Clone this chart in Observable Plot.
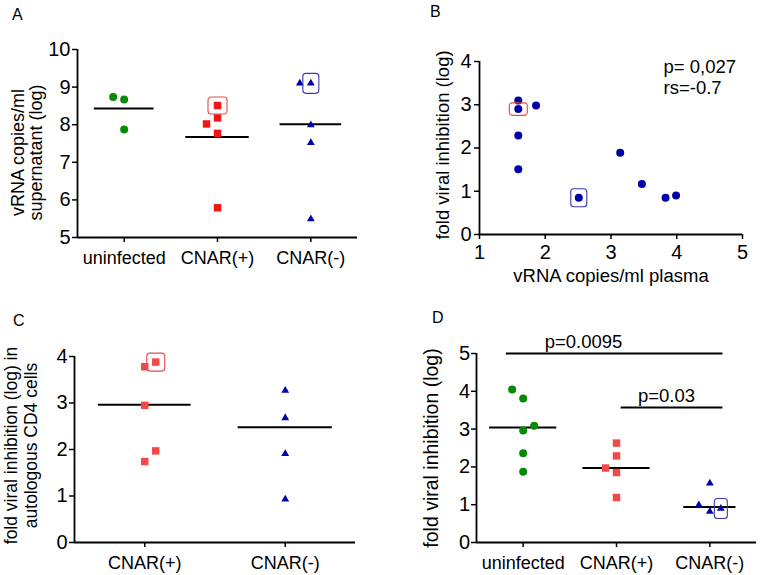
<!DOCTYPE html>
<html><head><meta charset="utf-8">
<script src="https://cdn.jsdelivr.net/npm/d3@7"></script>
<script src="https://cdn.jsdelivr.net/npm/@observablehq/plot@0.6"></script>
<style>
body{margin:0;background:#fff;}
#fig{position:relative;width:760px;height:575px;font-family:"Liberation Sans",Arial,sans-serif;overflow:hidden;}
.panel{position:absolute;}
.letter{position:absolute;font-size:16px;line-height:1;color:#000;font-family:"Liberation Sans",Arial,sans-serif;}
</style></head><body><div id="fig"></div>
<script>
// ---------- DATA ----------
// Panel A
const groupsA = ["uninfected", "CNAR(+)", "CNAR(-)"];
const aUninfected = [8.74, 8.67, 7.87];
const aUninfectedCol = [-1, 0, 0];
const aCnarPos = [8.02, 8.51, 8.18, 7.77, 5.79];
const aCnarPosCol = [-1, 0, 0, 0, 0];
const aCnarPosBoxed = 1;
const aCnarNeg = [9.10, 9.10, 7.99, 7.52, 5.49];
const aCnarNegCol = [-1, 0, 0, 0, 0];
const aCnarNegBoxed = 1;
const aMeans = [8.43, 7.67, 8.01];
const aTicks = [5, 6, 7, 8, 9, 10];

// Panel B
const bPlasma = [1.59, 1.59, 1.86, 1.59, 1.59, 2.51, 3.14, 3.47, 3.83, 3.99];
const bInhibition = [3.10, 2.90, 2.98, 2.29, 1.51, 0.85, 1.89, 1.17, 0.85, 0.90];
const bBoxedRed = 1;
const bBoxedBlue = 5;
const bXTicks = [1, 2, 3, 4, 5];
const bYTicks = [0, 1, 2, 3, 4];
const bStats = ["p= 0,027", "rs=-0.7"];

// Panel C
const groupsC = ["CNAR(+)", "CNAR(-)"];
const cCnarPos = [3.78, 3.88, 2.95, 1.97, 1.74];
const cCnarPosCol = [0, 1, 0, 1, 0];
const cCnarPosBoxed = 1;
const cCnarNeg = [3.27, 2.68, 1.91, 0.93];
const cMeans = [2.96, 2.48];
const cTicks = [0, 1, 2, 3, 4];

// Panel D
const groupsD = ["uninfected", "CNAR(+)", "CNAR(-)"];
const dUninfected = [4.05, 3.81, 3.09, 2.96, 2.36, 1.87];
const dUninfectedCol = [-1, 0, 1, 0, 0, 0];
const dCnarPos = [2.63, 2.29, 1.97, 1.85, 1.19];
const dCnarPosCol = [0, 0, -1, 0, 0];
const dCnarNeg = [1.57, 0.99, 0.82, 0.90];
const dCnarNegCol = [0, -1, 0, 1];
const dCnarNegBoxed = 3;
const dMeans = [3.04, 1.97, 0.94];
const dTicks = [0, 1, 2, 3, 4, 5];
const dSigFrom = ["uninfected", "CNAR(+)"];
const dSigTo = ["CNAR(-)", "CNAR(-)"];
const dSigY = [5.0, 3.57];
const dSigLabel = ["p=0.0095", "p=0.03"];

// ---------- STYLE ----------
const FONT = "Liberation Sans, Arial, Helvetica, sans-serif";
const GREEN = "#088a08", RED_A = "#f01616", RED_L = "#f24848", BLUE = "#0000aa";
const BOX_RED = "#e84a4a", BOX_BLUE = "#3b3bab";
const JIT = 11;
const TICK_FONT = 20;
const intFmt = d => String(d);

function rrect(w, h, r) {
  return {draw(c) {
    const x0 = -w / 2, y0 = -h / 2, x1 = w / 2, y1 = h / 2;
    c.moveTo(x0 + r, y0); c.lineTo(x1 - r, y0); c.arcTo(x1, y0, x1, y0 + r, r);
    c.lineTo(x1, y1 - r); c.arcTo(x1, y1, x1 - r, y1, r);
    c.lineTo(x0 + r, y1); c.arcTo(x0, y1, x0, y1 - r, r);
    c.lineTo(x0, y0 + r); c.arcTo(x0, y0, x0 + r, y0, r); c.closePath();
  }};
}

function pts(group, values, cols, boxed) {
  return values.map((v, i) => ({group, value: v, col: cols ? cols[i] : 0, boxed: i === boxed}));
}

const symStyle = {
  "uninfected": {symbol: "circle", r: 4},
  "CNAR(+)": {symbol: "square", r: 4.2},
  "CNAR(-)": {symbol: "triangle", r: 2.9}
};

function groupDots(groups, data, colorOf) {
  const marks = [];
  for (const g of groups) {
    for (const c of [-1, 0, 1]) {
      const sub = data.filter(d => d.group === g && d.col === c);
      if (!sub.length) continue;
      marks.push(Plot.dot(sub, {
        x: d => groups.indexOf(d.group), y: "value", dx: c * JIT,
        symbol: symStyle[g].symbol, r: symStyle[g].r, fill: colorOf(g), stroke: "none"
      }));
    }
  }
  return marks;
}

function boxMark(groups, data, w, h, color) {
  const sub = data.filter(d => d.boxed);
  return sub.map(d => Plot.dot([d], {
    x: e => groups.indexOf(e.group), y: "value", dx: d.col * JIT,
    symbol: rrect(w, h, 3), r: 5, fill: "none", stroke: color, strokeWidth: 1.1
  }));
}

function meanLines(groups, means, halves) {
  const tbl = groups.map((g, i) => ({i, mean: means[i], h: halves[i]}));
  return Plot.ruleY(tbl, {y: "mean", x1: d => d.i - d.h, x2: d => d.i + d.h, stroke: "black", strokeWidth: 2});
}

function baseStyle() {
  return {fontFamily: FONT, fontSize: "18px", color: "black", background: "white", overflow: "visible"};
}

function catAxes(groups, ticks, yMin, xPad, yPad) {
  return [
    Plot.axisY({ticks, tickFormat: intFmt, tickSize: 5, tickPadding: yPad, fontSize: TICK_FONT, label: null, strokeWidth: 1.5}),
    Plot.axisX({ticks: groups.map((g, i) => i), tickFormat: i => groups[i], tickSize: 5, tickPadding: xPad, fontSize: 18, label: null, strokeWidth: 1.5}),
    Plot.ruleX([-0.5], {strokeWidth: 1.8}),
    Plot.ruleY([yMin], {strokeWidth: 1.8})
  ];
}

const fig = document.getElementById("fig");
function place(el, left, top) {
  const d = document.createElement("div");
  d.className = "panel"; d.style.left = left + "px"; d.style.top = top + "px";
  d.appendChild(el); fig.appendChild(d);
}
function letter(t, left, top) {
  const d = document.createElement("div");
  d.className = "letter"; d.textContent = t; d.style.left = left + "px"; d.style.top = top + "px";
  fig.appendChild(d);
}

// ---------- PANEL A ----------
const dataA = [
  ...pts("uninfected", aUninfected, aUninfectedCol, -1),
  ...pts("CNAR(+)", aCnarPos, aCnarPosCol, aCnarPosBoxed),
  ...pts("CNAR(-)", aCnarNeg, aCnarNegCol, aCnarNegBoxed)
];
const colorA = g => g === "uninfected" ? GREEN : g === "CNAR(+)" ? RED_A : BLUE;
const plotA = Plot.plot({
  width: 380, height: 290,
  marginLeft: 77, marginRight: 23, marginTop: 49, marginBottom: 53,
  style: baseStyle(),
  x: {domain: [-0.5, 2.5]},
  y: {domain: [5, 10]},
  marks: [
    ...catAxes(groupsA, aTicks, 5, 9, 2),
    Plot.text(["vRNA copies/ml\nsupernatant (log)"], {text: d => d, frameAnchor: "left", rotate: -90, dx: -50, dy: 9, lineAnchor: "middle", textAnchor: "middle", fontSize: 18, lineHeight: 0.95}),
    meanLines(groupsA, aMeans, [0.32, 0.34, 0.33]),
    ...groupDots(groupsA, dataA, colorA),
    ...boxMark(groupsA, dataA.filter(d => d.group === "CNAR(+)"), 19, 17, BOX_RED),
    ...boxMark(groupsA, dataA.filter(d => d.group === "CNAR(-)"), 16, 20, BOX_BLUE)
  ]
});
place(plotA, 0, 0);

// ---------- PANEL B ----------
const dataB = bPlasma.map((x, i) => ({plasma: x, inhibition: bInhibition[i]}));
const plotB = Plot.plot({
  width: 380, height: 290,
  marginLeft: 99, marginRight: 18, marginTop: 61, marginBottom: 56,
  style: baseStyle(),
  x: {domain: [1, 5]},
  y: {domain: [0, 4]},
  marks: [
    Plot.axisY({ticks: bYTicks, tickFormat: intFmt, tickSize: 5, tickPadding: 3, fontSize: TICK_FONT, label: null, strokeWidth: 1.5}),
    Plot.axisX({ticks: bXTicks, tickFormat: intFmt, tickSize: 5, tickPadding: 5, fontSize: TICK_FONT, label: null, strokeWidth: 1.5}),
    Plot.ruleX([1], {strokeWidth: 1.8}),
    Plot.ruleY([0], {strokeWidth: 1.8}),
    Plot.text(["vRNA copies/ml plasma"], {text: d => d, frameAnchor: "bottom", dy: 42, lineAnchor: "middle", textAnchor: "middle", fontSize: 18.5}),
    Plot.text(["fold viral inhibition (log)"], {text: d => d, frameAnchor: "left", rotate: -90, dx: -36, dy: -3, lineAnchor: "middle", textAnchor: "middle", fontSize: 18.5}),
    Plot.text([bStats.join("\n")], {text: d => d, frameAnchor: "top-left", dx: 184, dy: -3, lineAnchor: "top", textAnchor: "start", fontSize: 18.5, lineHeight: 1.13}),
    Plot.dot(dataB, {x: "plasma", y: "inhibition", r: 4, fill: BLUE, stroke: "none"}),
    Plot.dot([dataB[bBoxedRed]], {x: "plasma", y: "inhibition", symbol: rrect(18, 12.5, 3), fill: "none", stroke: BOX_RED, strokeWidth: 1.1}),
    Plot.dot([dataB[bBoxedBlue]], {x: "plasma", y: "inhibition", symbol: rrect(16, 18, 3), fill: "none", stroke: BOX_BLUE, strokeWidth: 1.1})
  ]
});
place(plotB, 380, 0);

// ---------- PANEL C ----------
const dataC = [
  ...pts("CNAR(+)", cCnarPos, cCnarPosCol, cCnarPosBoxed),
  ...pts("CNAR(-)", cCnarNeg, null, -1)
];
const colorC = g => g === "CNAR(+)" ? RED_L : BLUE;
const plotC = Plot.plot({
  width: 380, height: 285,
  marginLeft: 74, marginRight: 25, marginTop: 66, marginBottom: 33,
  style: baseStyle(),
  x: {domain: [-0.5, 1.5]},
  y: {domain: [0, 4]},
  marks: [
    ...catAxes(groupsC, cTicks, 0, 8.5, 2),
    Plot.text(["fold viral inhibition (log) in\nautologous CD4 cells"], {text: d => d, frameAnchor: "left", rotate: -90, dx: -54, dy: -4, lineAnchor: "middle", textAnchor: "middle", fontSize: 17.5, lineHeight: 1.15}),
    meanLines(groupsC, cMeans, [0.33, 0.335]),
    ...groupDots(groupsC, dataC, colorC),
    ...boxMark(groupsC, dataC, 18, 18, BOX_RED)
  ]
});
place(plotC, 0, 290);

// ---------- PANEL D ----------
const dataD = [
  ...pts("uninfected", dUninfected, dUninfectedCol, -1),
  ...pts("CNAR(+)", dCnarPos, dCnarPosCol, -1),
  ...pts("CNAR(-)", dCnarNeg, dCnarNegCol, dCnarNegBoxed)
];
const colorD = g => g === "uninfected" ? GREEN : g === "CNAR(+)" ? RED_L : BLUE;
const sigD = dSigLabel.map((label, i) => ({label, from: groupsD.indexOf(dSigFrom[i]), to: groupsD.indexOf(dSigTo[i]), y: dSigY[i]}));
const sigStartPad = [-0.18, 0.05], sigEndPad = 0.14, sigTextPad = 0.23;
const plotD = Plot.plot({
  width: 380, height: 285,
  marginLeft: 96, marginRight: 4, marginTop: 63, marginBottom: 33,
  style: baseStyle(),
  x: {domain: [-0.5, 2.5]},
  y: {domain: [0, 5]},
  marks: [
    ...catAxes(groupsD, dTicks, 0, 9, 1.5),
    Plot.text(["fold viral inhibition (log)"], {text: d => d, frameAnchor: "left", rotate: -90, dx: -45, dy: 0, lineAnchor: "middle", textAnchor: "middle", fontSize: 19.5}),
    Plot.ruleY(sigD, {y: "y", x1: (d, i) => d.from + sigStartPad[i], x2: d => d.to + sigEndPad, stroke: "black", strokeWidth: 2}),
    Plot.text(sigD, {x: d => d.from + sigTextPad, y: "y", text: "label", textAnchor: "start", lineAnchor: "middle", dy: -11, fontSize: 18.5}),
    meanLines(groupsD, dMeans, [0.36, 0.36, 0.28]),
    ...groupDots(groupsD, dataD, colorD),
    ...boxMark(groupsD, dataD, 13, 20, BOX_BLUE)
  ]
});
place(plotD, 380, 290);

// ---------- PANEL LETTERS ----------
letter("A", 12, 7);
letter("B", 430, 4);
letter("C", 13, 313);
letter("D", 432, 310);
</script></body></html>
